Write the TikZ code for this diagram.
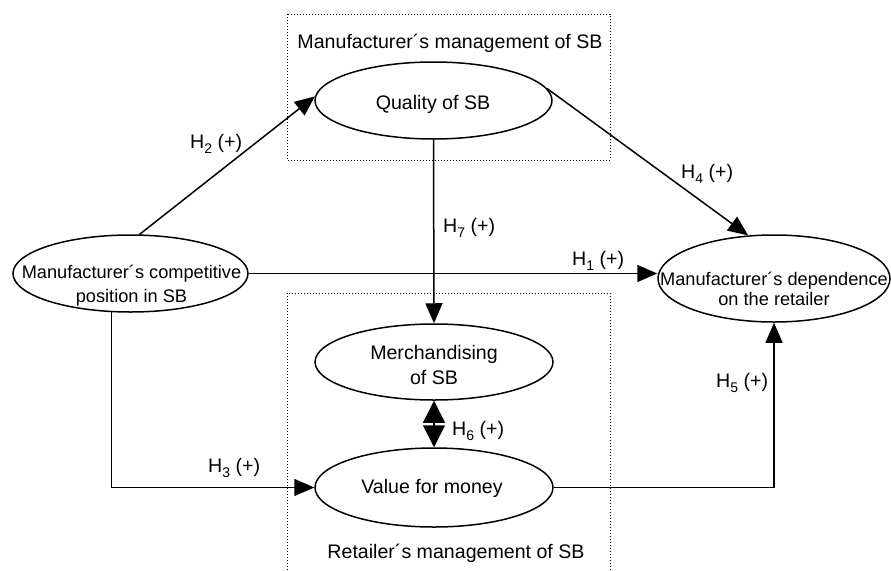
\documentclass[tikz,border=0pt]{standalone}
\usepackage{fontspec}
\setmainfont{Liberation Sans}
\usetikzlibrary{arrows.meta,shapes.geometric}
\newcommand{\hyp}[1]{H\raisebox{-0.28em}{\fontsize{14}{14}\selectfont #1} (+)}
\begin{document}
\begin{tikzpicture}[x=1pt,y=-1pt,
  ell/.style={draw, ellipse, line width=1.5pt, inner sep=0pt},
  txt/.style={font=\fontsize{19.6}{23}\selectfont, inner sep=0pt},
  twotxt/.style={inner sep=0pt, align=center, anchor=north},
  con/.style={line width=1.5pt, -{Triangle[length=20pt,width=17pt]}},
  bothcon/.style={line width=1.5pt, {Triangle[length=22pt,width=22pt]}-{Triangle[length=22pt,width=22pt]}},
  box/.style={line width=1pt, dash pattern=on 1pt off 2pt}]
\useasboundingbox (0,0) rectangle (891,570);
% dotted boxes
\draw[box] (287,14) rectangle (610,160);
\draw[box] (287,570) -- (287,293) -- (610,293) -- (610,570);
\node[txt, anchor=base] (tlab) at (450,48.3) {Manufacturer´s management of SB};
\node[txt, anchor=base] (blab) at (456,558.3) {Retailer´s management of SB};
% ellipses
\node[ell, minimum width=237pt, minimum height=77pt] (quality) at (433.5,100.5) {};
\node[ell, minimum width=235pt, minimum height=77pt] (comp) at (130.5,273.5) {};
\node[ell, minimum width=232pt, minimum height=87pt] (dep) at (774,278.5) {};
\node[ell, minimum width=238pt, minimum height=76pt] (merch) at (434,362) {};
\node[ell, minimum width=238pt, minimum height=79pt] (value) at (434,487.5) {};
% ellipse texts
\node[txt, anchor=base] (qualityt) at (433,109.3) {Quality of SB};
\node[twotxt, font=\fontsize{18.2}{23.4}\selectfont] (compt) at (131.5,265) {Manufacturer´s competitive\\position in SB};
\node[twotxt, font=\fontsize{18.2}{20.5}\selectfont] (dept) at (774,271.7) {Manufacturer´s dependence\\on the retailer};
\node[twotxt, font=\fontsize{19.6}{25}\selectfont] (mercht) at (434,345.5) {Merchandising\\of SB};
\node[txt, anchor=base] (valuet) at (432,493) {Value for money};
% connectors
\draw[con] (comp.77) -- (quality.178);
\draw[con] (quality.6) -- (dep.121);
\draw[con] (quality.south) -- (merch.north);
\draw[con] (comp.east) -- (comp.east -| dep.west);
\draw[con] (comp.244) |- (value.west);
\draw[con] (value.east) -| (dep.south);
\draw[bothcon] (merch.south) -- (value.north);
% hypothesis labels
\node[txt, anchor=base west] (h2) at (190,148) {\hyp{2}};
\node[txt, anchor=base west] (h4) at (681,178) {\hyp{4}};
\node[txt, anchor=base west] (h7) at (443,232) {\hyp{7}};
\node[txt, anchor=base west] (h1) at (572,265) {\hyp{1}};
\node[txt, anchor=base west] (h3) at (208,472) {\hyp{3}};
\node[txt, anchor=base west] (h5) at (716,387) {\hyp{5}};
\node[txt, anchor=base west] (h6) at (452,435) {\hyp{6}};
\end{tikzpicture}
\end{document}
